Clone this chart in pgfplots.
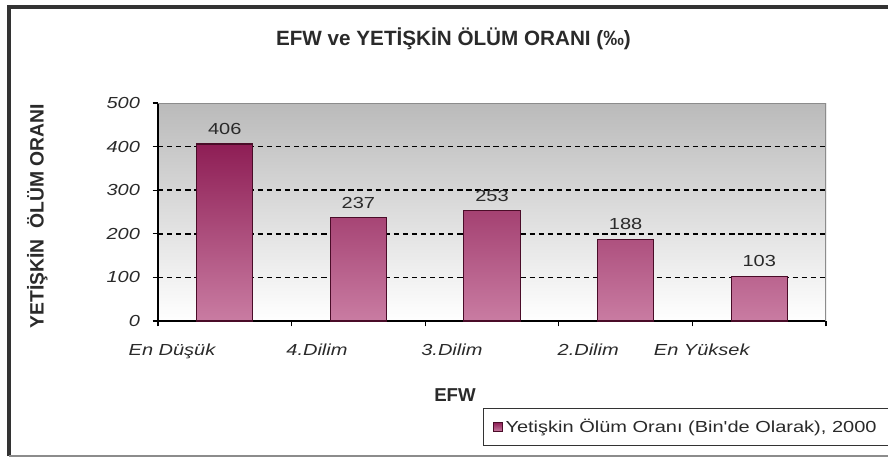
\documentclass[border=0pt]{standalone}
\usepackage{fontspec}
\setmainfont{Liberation Sans}
\newfontfamily\wide{Liberation Sans}[FakeStretch=1.25]
\usepackage{pgfplots}
\pgfplotsset{compat=1.18}
\definecolor{bartop}{HTML}{8E1E55}
\definecolor{barbot}{HTML}{C97CA2}
\definecolor{baredge}{HTML}{4A0C28}
\definecolor{txt}{HTML}{2A2A2A}

\begin{document}
\begin{tikzpicture}
\useasboundingbox (-118.5pt,-105pt) rectangle (547.5pt,240.75pt);
\begin{axis}[
    scale only axis,
    width=501pt, height=163.5pt,
    xmin=0, xmax=5, ymin=0, ymax=500,
    /pgf/number format/assume math mode=true,
    axis x line*=bottom, axis y line*=left,
    axis line style={-, black, line width=1.1pt},
    axis background/.style={top color=black!27, middle color=black!7, bottom color=white},
    xtick={0,...,5}, xticklabels={},
    ytick={0,100,...,500},
    tick align=outside, major tick length=4pt,
    tick style={black, line width=0.8pt},
    yticklabel style={font=\wide\itshape\fontsize{12}{14}\selectfont, text=txt, xshift=-6pt},
    extra x ticks={0.105,1.19,2.20,3.22,4.07},
    extra x tick labels={En Düşük,4.Dilim,3.Dilim,2.Dilim,En Yüksek},
    extra x tick style={major tick length=0pt,
        tick label style={yshift=-14pt, font=\wide\itshape\fontsize{12}{14}\selectfont, text=txt}},
    extra y ticks={100,200,300,400}, extra y tick labels={},
    extra y tick style={grid=major, major tick length=0pt},
    major grid style={black, line width=1.3pt, dash pattern=on 4pt off 2.8pt},
    legend style={at={(axis description cs:0.4865,-0.399)}, anchor=north west,
        draw=black!80, line width=1pt, inner xsep=7pt, inner ysep=6pt,
        font=\wide\fontsize{12}{14}\selectfont, text=txt},
    legend image code/.code={
        \draw[draw=baredge, line width=0.6pt, top color=bartop, bottom color=barbot]
            (0pt,-3.4pt) rectangle (6.8pt,3.4pt);},
]
\addplot[ybar, bar width=0.42, draw=baredge, line width=0.8pt,
    top color=bartop, bottom color=barbot,
    nodes near coords,
    every node near coord/.append style={font=\wide\fontsize{12}{14}\selectfont, text=txt, yshift=3pt}]
    coordinates {(0.5,406) (1.5,237) (2.5,253) (3.5,188) (4.5,103)};
\addlegendentry{Yetişkin Ölüm Oranı (Bin'de Olarak), 2000}
\draw[black!45, line width=1pt] (rel axis cs:0,1) -- (rel axis cs:1,1) -- (rel axis cs:1,0);
\end{axis}
% chart title and axis titles
\node[font=\bfseries\fontsize{15.5}{18}\selectfont, text=txt] at (221.6pt,211.5pt) {EFW ve YETİŞKİN ÖLÜM ORANI (‰)};
\node[font=\bfseries\fontsize{14.5}{17}\selectfont, text=txt, rotate=90] at (-90.4pt,78.75pt) {YETİŞKİN\ \ ÖLÜM ORANI};
\node[font=\bfseries\fontsize{14}{17}\selectfont, text=txt] at (222.75pt,-55.5pt) {EFW};
% outer frame
\draw[black!80, line width=2.5pt] (-111.75pt,-101.25pt) -- (-111.75pt,235.5pt) -- (556pt,235.5pt);
\draw[black!45, line width=1.2pt] (-111.75pt,-101.25pt) -- (556pt,-101.25pt);
\end{tikzpicture}
\end{document}
